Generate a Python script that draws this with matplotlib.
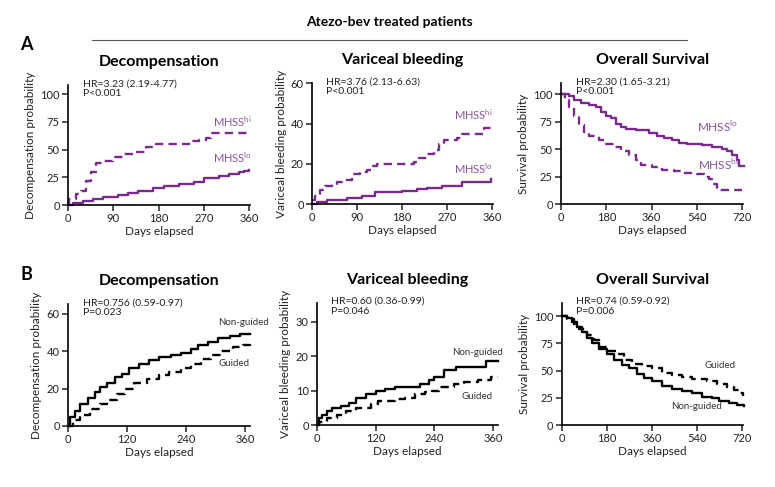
import numpy as np
import matplotlib
matplotlib.use("Agg")
import matplotlib.pyplot as plt

plt.rcParams['font.family'] = ['Lato', 'DejaVu Sans']

PURPLE = '#7a2a8e'
LABEL_PURPLE = '#8a52a0'

# ---- A: Decompensation (MHSS hi / lo)
a1_hi_x = [0, 3, 15, 25, 35, 45, 55, 70, 90, 110, 130, 155, 175, 240, 260, 275, 285, 360]
a1_hi_y = [0, 5, 10, 13, 22, 30, 38, 40, 43, 46, 48, 52, 55, 58, 59, 60, 65, 65]
a1_lo_x = [0, 10, 30, 50, 70, 100, 120, 140, 170, 190, 220, 250, 270, 300, 320, 340, 350, 360]
a1_lo_y = [0, 2, 4, 5, 7, 9, 11, 13, 15, 17, 19, 21, 24, 26, 28, 30, 31, 32]

# ---- A: Variceal bleeding
a2_hi_x = [0, 5, 15, 25, 40, 50, 60, 80, 95, 110, 120, 130, 205, 215, 230, 245, 255, 265, 290, 300, 335, 345, 360]
a2_hi_y = [2, 4, 7, 9, 10, 11, 12, 15, 16, 17, 19, 20, 21, 23, 25, 27, 30, 32, 33, 35, 35, 38, 38]
a2_lo_x = [0, 10, 30, 70, 100, 125, 180, 210, 230, 260, 300, 350, 358]
a2_lo_y = [0, 1, 2, 3, 4, 6, 6.5, 7.5, 8, 9, 11, 11, 12.5]

# ---- A: Overall survival
a3_lo_x = [0, 20, 30, 50, 80, 110, 140, 160, 180, 200, 220, 240, 260, 300, 350, 380, 410, 440, 470,
           500, 560, 600, 640, 660, 680, 700, 710, 730]
a3_lo_y = [100, 100, 98, 95, 92, 90, 88, 84, 80, 78, 73, 70, 68, 67, 65, 62, 60, 58, 56,
           55, 54, 52, 50, 48, 45, 40, 35, 35]
a3_hi_x = [0, 15, 30, 50, 70, 90, 110, 150, 180, 210, 240, 270, 300, 320, 360, 400, 450, 480,
           540, 570, 590, 600, 620, 720]
a3_hi_y = [100, 95, 88, 80, 72, 66, 62, 58, 55, 52, 48, 45, 40, 36, 34, 31, 30, 28,
           27, 25, 23, 18, 13, 13]

# ---- B: Decompensation (guided vs non-guided)
b1_ng_x = [0, 5, 15, 25, 40, 55, 65, 80, 95, 110, 125, 145, 165, 185, 210, 230, 250, 265, 285, 305,
           330, 350, 370]
b1_ng_y = [0, 5, 8, 12, 15, 18, 21, 23, 26, 28, 31, 33, 35, 37, 38, 39, 41, 43, 45, 47,
           48, 49, 49]
b1_g_x = [0, 10, 25, 45, 65, 80, 100, 115, 135, 160, 185, 205, 230, 250, 270, 290, 310, 335, 355, 370]
b1_g_y = [0, 3, 6, 9, 12, 14, 17, 20, 23, 25, 27, 29, 31, 33, 36, 38, 40, 42, 43, 44]

# ---- B: Variceal bleeding
b2_ng_x = [0, 5, 10, 20, 30, 50, 65, 80, 100, 120, 140, 160, 210, 230, 240, 260, 285, 340, 345, 370]
b2_ng_y = [0, 2, 3, 4, 5, 5.5, 6.5, 8, 9, 10, 10.5, 11, 12, 13, 14, 16, 17, 17, 18.5, 18.5]
b2_g_x = [0, 5, 20, 40, 60, 80, 110, 125, 160, 180, 200, 220, 235, 250, 280, 300, 330, 355, 370]
b2_g_y = [0, 1, 2, 3, 4, 5, 6, 7, 7.5, 8, 9, 9.5, 10, 11, 12, 12.5, 13, 14, 14]

# ---- B: Overall survival
b3_ng_x = [0, 20, 40, 60, 80, 100, 120, 150, 180, 210, 240, 270, 300, 330, 360, 400, 440, 480,
           520, 560, 600, 630, 670, 700, 730]
b3_ng_y = [100, 98, 95, 90, 85, 80, 75, 70, 65, 60, 55, 52, 47, 43, 40, 36, 33, 31,
           29, 26, 25, 22, 20, 18, 17]
b3_g_x = [0, 20, 50, 70, 100, 130, 150, 180, 220, 250, 280, 320, 360, 400, 440, 480, 520, 580,
          620, 660, 690, 710, 725]
b3_g_y = [100, 97, 93, 88, 83, 78, 72, 68, 65, 60, 56, 54, 52, 48, 46, 44, 42, 40,
          38, 35, 32, 29, 27]

fig = plt.figure(figsize=(7.75, 4.87), dpi=100)


def make_ax(rect, title, ylabel, xlim, ylim, xticks, yticks):
    ax = fig.add_axes(rect)
    ax.set_xlim(*xlim)
    ax.set_ylim(*ylim)
    ax.set_xticks(xticks)
    ax.set_yticks(yticks)
    for s in ['top', 'right']:
        ax.spines[s].set_visible(False)
    for s in ['left', 'bottom']:
        ax.spines[s].set_linewidth(1.2)
    ax.tick_params(direction='out', length=4, width=1.1, labelsize=8, pad=2, colors='#222222')
    ax.set_title(title, fontsize=11.5, fontweight='bold', pad=14)
    ax.set_ylabel(ylabel, fontsize=8.5, labelpad=3, color='#222222')
    ax.set_xlabel('Days elapsed', fontsize=8.5, labelpad=1, color='#222222')
    return ax


def km(ax, x, y, color, dashed=False):
    if dashed:
        ax.step(x, y, where='post', color=color, lw=1.7, dashes=(3.5, 2.2), clip_on=False)
    else:
        ax.step(x, y, where='post', color=color, lw=1.7, clip_on=False)


def stats(ax, txt):
    ax.text(0.08, 1.05, txt, transform=ax.transAxes, fontsize=7.5, va='top', ha='left',
            linespacing=1.1, color='#222222')


# Row A
ax = make_ax([0.0877, 0.579, 0.235, 0.246], 'Decompensation', 'Decompensation probability',
             (0, 362), (0, 108), [0, 90, 180, 270, 360], [0, 25, 50, 75, 100])
km(ax, a1_hi_x, a1_hi_y, PURPLE, True)
km(ax, a1_lo_x, a1_lo_y, PURPLE)
stats(ax, 'HR=3.23 (2.19-4.77)\nP<0.001')
ax.text(365, 70, r'MHSS$^{\mathregular{hi}}$', color=LABEL_PURPLE, fontsize=8, ha='right')
ax.text(365, 38, r'MHSS$^{\mathregular{lo}}$', color=LABEL_PURPLE, fontsize=8, ha='right')

ax = make_ax([0.4026, 0.581, 0.2335, 0.248], 'Variceal bleeding', 'Variceal bleeding probability',
             (0, 362), (0, 60), [0, 90, 180, 270, 360], [0, 20, 40, 60])
km(ax, a2_hi_x, a2_hi_y, PURPLE, True)
km(ax, a2_lo_x, a2_lo_y, PURPLE)
stats(ax, 'HR=3.76 (2.13-6.63)\nP<0.001')
ax.text(362, 42, r'MHSS$^{\mathregular{hi}}$', color=LABEL_PURPLE, fontsize=8, ha='right')
ax.text(362, 15, r'MHSS$^{\mathregular{lo}}$', color=LABEL_PURPLE, fontsize=8, ha='right')

ax = make_ax([0.724, 0.581, 0.235, 0.248], 'Overall Survival', 'Survival probability',
             (0, 725), (0, 110), [0, 180, 360, 540, 720], [0, 25, 50, 75, 100])
km(ax, a3_hi_x, a3_hi_y, PURPLE, True)
km(ax, a3_lo_x, a3_lo_y, PURPLE)
stats(ax, 'HR=2.30 (1.65-3.21)\nP<0.001')
ax.text(540, 66, r'MHSS$^{\mathregular{lo}}$', color=LABEL_PURPLE, fontsize=8.5, ha='left')
ax.text(545, 31, r'MHSS$^{\mathregular{hi}}$', color=LABEL_PURPLE, fontsize=8.5, ha='left')

# Row B
ax = make_ax([0.0877, 0.1253, 0.235, 0.25], 'Decompensation', 'Decompensation probability',
             (0, 370), (0, 65), [0, 120, 240, 360], [0, 20, 40, 60])
km(ax, b1_ng_x, b1_ng_y, 'black')
km(ax, b1_g_x, b1_g_y, 'black', True)
stats(ax, 'HR=0.756 (0.59-0.97)\nP=0.023')
ax.text(305, 54, 'Non-guided', fontsize=7, ha='left', color='#333333')
ax.text(305, 32, 'Guided', fontsize=7, ha='left', color='#333333')

ax = make_ax([0.409, 0.1273, 0.2335, 0.2505], 'Variceal bleeding', 'Variceal bleeding probability',
             (0, 370), (0, 35.5), [0, 120, 240, 360], [0, 10, 20, 30])
km(ax, b2_ng_x, b2_ng_y, 'black')
km(ax, b2_g_x, b2_g_y, 'black', True)
stats(ax, 'HR=0.60 (0.36-0.99)\nP=0.046')
ax.text(277, 20.5, 'Non-guided', fontsize=7, ha='left', color='#333333')
ax.text(295, 7.5, 'Guided', fontsize=7, ha='left', color='#333333')

ax = make_ax([0.725, 0.1273, 0.234, 0.2505], 'Overall Survival', 'Survival probability',
             (0, 725), (0, 112), [0, 180, 360, 540, 720], [0, 25, 50, 75, 100])
km(ax, b3_ng_x, b3_ng_y, 'black')
km(ax, b3_g_x, b3_g_y, 'black', True)
stats(ax, 'HR=0.74 (0.59-0.92)\nP=0.006')
ax.text(570, 52, 'Guided', fontsize=7, ha='left', color='#333333')
ax.text(436, 15, 'Non-guided', fontsize=7, ha='left', color='#333333')

# header and panel letters
fig.text(0.503, 0.955, 'Atezo-bev treated patients', fontsize=10, fontweight='bold', ha='center', va='center')
fig.add_artist(plt.Line2D([92 / 775, 687 / 775], [1 - 40 / 487, 1 - 40 / 487], color='#555555', lw=0.8))
fig.text(20 / 775, 1 - 45 / 487, 'A', fontsize=13, fontweight='bold', ha='left', va='center')
fig.text(20 / 775, 1 - 275 / 487, 'B', fontsize=13, fontweight='bold', ha='left', va='center')

fig.savefig('out.png', dpi=100)
